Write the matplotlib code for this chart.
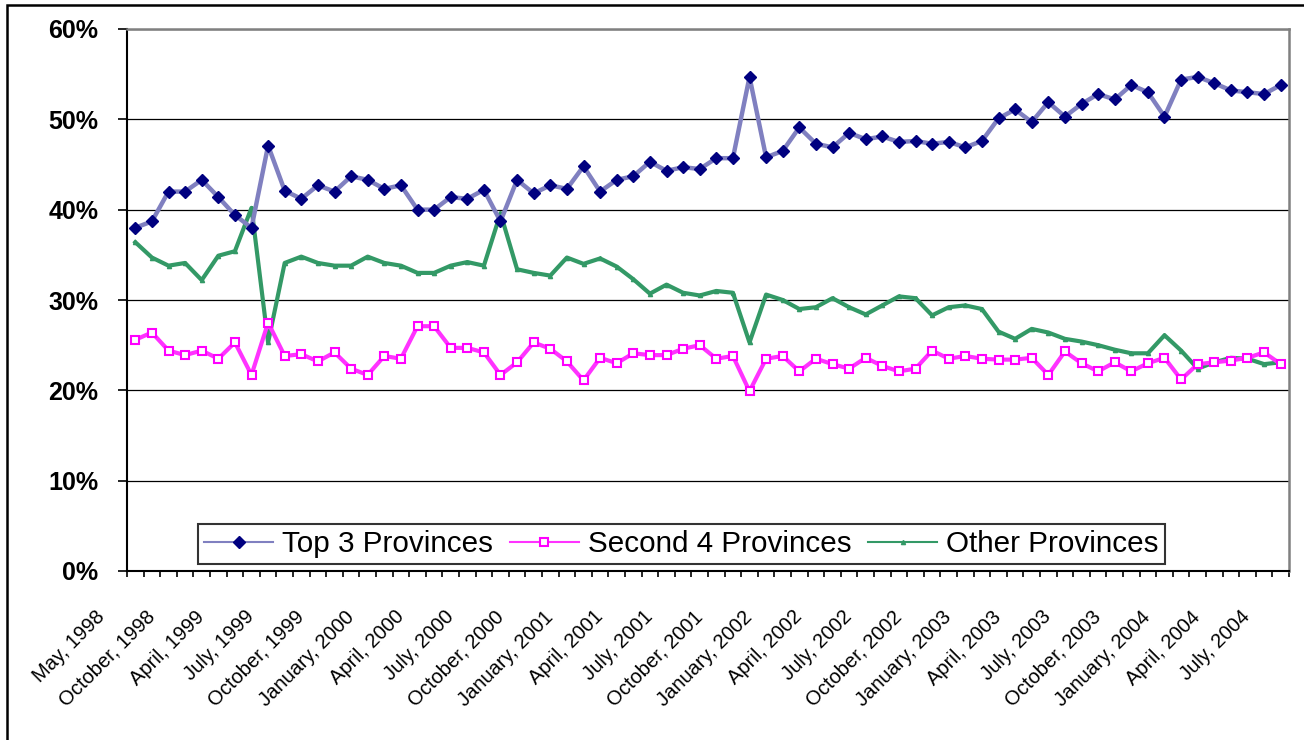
import matplotlib
matplotlib.use("Agg")
import matplotlib.pyplot as plt
from matplotlib.ticker import FixedLocator, FuncFormatter
from matplotlib.transforms import ScaledTranslation
from matplotlib.patches import Rectangle

# Share of total (%) by province group, one value per reporting month
top3 = [38.0, 38.7, 42.0, 42.0, 43.3, 41.4, 39.4, 38.0, 47.1, 42.1,
        41.2, 42.7, 42.0, 43.7, 43.3, 42.3, 42.7, 40.0, 40.0, 41.4,
        41.2, 42.2, 38.7, 43.3, 41.8, 42.7, 42.3, 44.8, 42.0, 43.3,
        43.7, 45.3, 44.3, 44.7, 44.5, 45.7, 45.7, 54.7, 45.8, 46.5,
        49.1, 47.3, 46.9, 48.5, 47.8, 48.1, 47.5, 47.6, 47.3, 47.5,
        46.9, 47.6, 50.1, 51.1, 49.7, 51.9, 50.3, 51.7, 52.8, 52.2,
        53.8, 53.0, 50.3, 54.4, 54.7, 54.0, 53.2, 53.0, 52.8, 53.8]
second4 = [25.6, 26.4, 24.4, 23.9, 24.4, 23.5, 25.3, 21.7, 27.5, 23.8,
           24.0, 23.2, 24.2, 22.4, 21.7, 23.8, 23.5, 27.1, 27.1, 24.7,
           24.7, 24.2, 21.7, 23.1, 25.3, 24.6, 23.2, 21.1, 23.6, 23.0,
           24.1, 23.9, 23.9, 24.6, 25.0, 23.5, 23.8, 19.9, 23.5, 23.8,
           22.1, 23.5, 22.9, 22.4, 23.6, 22.7, 22.1, 22.4, 24.4, 23.5,
           23.8, 23.5, 23.4, 23.4, 23.6, 21.7, 24.3, 23.0, 22.1, 23.1,
           22.1, 23.0, 23.6, 21.2, 22.9, 23.1, 23.3, 23.6, 24.2, 22.9]
other = [36.4, 34.7, 33.8, 34.1, 32.2, 34.9, 35.4, 40.2, 25.3, 34.1,
         34.8, 34.1, 33.8, 33.8, 34.8, 34.1, 33.8, 33.0, 33.0, 33.8,
         34.2, 33.8, 39.6, 33.4, 33.0, 32.7, 34.7, 34.0, 34.6, 33.7,
         32.3, 30.7, 31.7, 30.8, 30.5, 31.0, 30.8, 25.3, 30.6, 30.0,
         29.0, 29.2, 30.2, 29.2, 28.4, 29.4, 30.4, 30.2, 28.3, 29.2,
         29.4, 29.0, 26.5, 25.7, 26.8, 26.4, 25.7, 25.4, 25.0, 24.5,
         24.1, 24.1, 26.1, 24.4, 22.4, 23.1, 23.6, 23.5, 22.9, 23.1]

# every third month carries a label
month_labels = [
    "May, 1998", "October, 1998", "April, 1999", "July, 1999", "October, 1999",
    "January, 2000", "April, 2000", "July, 2000", "October, 2000",
    "January, 2001", "April, 2001", "July, 2001", "October, 2001",
    "January, 2002", "April, 2002", "July, 2002", "October, 2002",
    "January, 2003", "April, 2003", "July, 2003", "October, 2003",
    "January, 2004", "April, 2004", "July, 2004",
]
LABEL_STEP = 3

plt.rcParams["font.family"] = ["Liberation Sans", "DejaVu Sans"]

fig = plt.figure(figsize=(13.04, 7.40), dpi=100)
ax = fig.add_axes([127 / 1304, 1 - 571 / 740, 1162 / 1304, 542 / 740])

x = list(range(len(top3)))
ax.plot(x, top3, color="#8080C0", linewidth=3.2, marker="D", markersize=6.5,
        markerfacecolor="#000080", markeredgecolor="#000080", zorder=4,
        label="Top 3 Provinces")
ax.plot(x, second4, color="#FF33FF", linewidth=3.0, marker="s", markersize=6,
        markerfacecolor="white", markeredgecolor="#FF00FF", markeredgewidth=1.5,
        zorder=3, label="Second 4 Provinces")
ax.plot(x, other, color="#339966", linewidth=3, marker="^", markersize=3,
        zorder=2, label="Other Provinces")

ax.set_xlim(-0.5, len(top3) - 0.5)
ax.set_ylim(0, 60)
ax.set_yticks(range(0, 61, 10))
ax.yaxis.set_major_formatter(FuncFormatter(lambda v, _: f"{v:.0f}%"))
ax.grid(axis="y", color="black", linewidth=0.9)
ax.set_axisbelow(True)

ax.xaxis.set_major_locator(FixedLocator(range(0, len(top3), LABEL_STEP)))
ax.set_xticklabels(month_labels)
ax.xaxis.set_minor_locator(FixedLocator([i - 0.5 for i in range(len(top3) + 1)]))
ax.tick_params(axis="x", which="major", length=0, pad=26, labelsize=14.5)
ax.tick_params(axis="x", which="minor", length=4.5, width=1.2, direction="out")
ax.tick_params(axis="y", length=6.5, width=1.2, direction="out", pad=14,
               labelsize=18)
for lab in ax.get_yticklabels():
    lab.set_fontweight("bold")

shift = ScaledTranslation(-0.40, 0, fig.dpi_scale_trans)
for lab in ax.get_xticklabels():
    lab.set_rotation(45)
    lab.set_rotation_mode("anchor")
    lab.set_ha("right")
    lab.set_va("top")
    lab.set_transform(lab.get_transform() + shift)

for side in ("left", "bottom"):
    ax.spines[side].set_color("black")
    ax.spines[side].set_linewidth(1.5)
for side in ("top", "right"):
    ax.spines[side].set_color("#808080")
    ax.spines[side].set_linewidth(1.8)

leg = ax.legend(loc="center", bbox_to_anchor=(0.477, 0.05), ncol=3,
                fontsize=21.3, frameon=True, fancybox=False, edgecolor="black",
                handlelength=2.35, handletextpad=0.3, columnspacing=0.55,
                borderpad=0.2, borderaxespad=0)
leg.get_frame().set_linewidth(1.5)
for line in leg.get_lines():
    line.set_linewidth(1.5)

# outer chart border
fig.add_artist(Rectangle((7 / 1304, -0.1), 1.2, 1.1 - 5 / 740, fill=False,
                         edgecolor="black", linewidth=1.8,
                         transform=fig.transFigure))

fig.savefig("out.png", dpi=100, facecolor="white")
